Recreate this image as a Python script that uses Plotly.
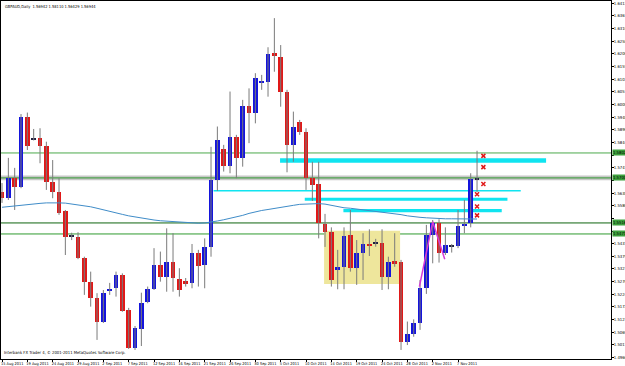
import plotly.graph_objects as go
from datetime import date, timedelta

# ---------------- data ----------------
# daily bars (broker feed includes Sunday bars, no Saturday bars)
start_day = date(2011, 8, 15)
n_bars = 76
dates = []
d = start_day
while len(dates) < n_bars:
    if d.weekday() != 5:
        dates.append(d)
    d += timedelta(days=1)
date_labels = [f"{x.day} {x.strftime('%b %Y')}" for x in dates]

open_ = [1.5643, 1.5619, 1.5699, 1.5662, 1.5950, 1.5857, 1.5862, 1.5832, 1.5685, 1.5644,
         1.5565, 1.5460, 1.5460, 1.5374, 1.5276, 1.5211, 1.5113, 1.5240, 1.5249, 1.5303,
         1.5160, 1.5006, 1.5081, 1.5194, 1.5245, 1.5344, 1.5296, 1.5358, 1.5287, 1.5277,
         1.5269, 1.5392, 1.5344, 1.5419, 1.5690, 1.5818, 1.5749, 1.5869, 1.5783, 1.5994,
         1.5967, 1.6090, 1.6093, 1.6210, 1.6196, 1.6053, 1.5835, 1.5930, 1.5887, 1.5699,
         1.5674, 1.5512, 1.5480, 1.5324, 1.5335, 1.5467, 1.5333, 1.5395, 1.5430, 1.5432,
         1.5433, 1.5296, 1.5359, 1.5355, 1.5031, 1.5062, 1.5106, 1.5252, 1.5467, 1.5515,
         1.5395, 1.5420, 1.5422, 1.5504, 1.5517, 1.56942]
high = [1.5679, 1.5782, 1.5741, 1.5961, 1.5967, 1.5900, 1.5903, 1.5848, 1.5773, 1.5699,
        1.5569, 1.5476, 1.5478, 1.5378, 1.5317, 1.5229, 1.5242, 1.5271, 1.5317, 1.5310,
        1.5169, 1.5095, 1.5231, 1.5256, 1.5413, 1.5399, 1.5494, 1.5474, 1.5331, 1.5291,
        1.5430, 1.5406, 1.5453, 1.5827, 1.5910, 1.5835, 1.6053, 1.5876, 1.6019, 1.6066,
        1.6128, 1.6121, 1.6234, 1.6353, 1.6243, 1.6060, 1.5971, 1.5937, 1.5903, 1.5766,
        1.5766, 1.5553, 1.5498, 1.5406, 1.5498, 1.5569, 1.5446, 1.5474, 1.5490, 1.5451,
        1.5490, 1.5378, 1.5474, 1.5365, 1.5113, 1.5122, 1.5283, 1.5508, 1.5528, 1.5531,
        1.5498, 1.5430, 1.5569, 1.5610, 1.5719, 1.58110]
low = [1.5598, 1.5610, 1.5569, 1.5658, 1.5814, 1.5853, 1.5760, 1.5651, 1.5617, 1.5549,
       1.5385, 1.5446, 1.5368, 1.5222, 1.5174, 1.5038, 1.5107, 1.5222, 1.5215, 1.5153,
       1.5001, 1.4997, 1.5013, 1.5188, 1.5242, 1.5276, 1.5235, 1.5235, 1.5215, 1.5256,
       1.5249, 1.5256, 1.5249, 1.5378, 1.5647, 1.5726, 1.5719, 1.5699, 1.5746, 1.5842,
       1.5923, 1.6060, 1.6032, 1.6134, 1.5991, 1.5723, 1.5766, 1.5876, 1.5651, 1.5606,
       1.5453, 1.5418, 1.5256, 1.5245, 1.5245, 1.5317, 1.5263, 1.5283, 1.5381, 1.5419,
       1.5242, 1.5245, 1.5337, 1.4997, 1.5017, 1.5051, 1.5079, 1.5226, 1.5351, 1.5354,
       1.5385, 1.5395, 1.5413, 1.5474, 1.5498, 1.56429]
close = [1.5618, 1.5699, 1.5664, 1.5950, 1.5832, 1.5859, 1.5832, 1.5685, 1.5644, 1.5556,
         1.5460, 1.5462, 1.5374, 1.5276, 1.5211, 1.5113, 1.5231, 1.5248, 1.5303, 1.5158,
         1.5005, 1.5086, 1.5190, 1.5245, 1.5344, 1.5296, 1.5358, 1.5290, 1.5242, 1.5267,
         1.5392, 1.5341, 1.5419, 1.5692, 1.5855, 1.5749, 1.5869, 1.5783, 1.5994, 1.5964,
         1.6107, 1.6096, 1.6207, 1.6200, 1.6050, 1.5835, 1.5910, 1.5887, 1.5699, 1.5673,
         1.5515, 1.5480, 1.5283, 1.5337, 1.5464, 1.5333, 1.5392, 1.5429, 1.5422, 1.5434,
         1.5296, 1.5358, 1.5352, 1.5031, 1.5062, 1.5106, 1.5252, 1.5467, 1.5515, 1.5395,
         1.5426, 1.5422, 1.5504, 1.5512, 1.5694, 1.56944]
moving_avg = [1.5580, 1.5583, 1.5587, 1.5590, 1.5592, 1.5594, 1.5596, 1.5598, 1.5599, 1.5598,
              1.5597, 1.5594, 1.5590, 1.5587, 1.5582, 1.5576, 1.5569, 1.5563, 1.5557, 1.5551,
              1.5545, 1.5540, 1.5536, 1.5531, 1.5528, 1.5525, 1.5523, 1.5521, 1.5519, 1.5518,
              1.5516, 1.5515, 1.5516, 1.5519, 1.5524, 1.5529, 1.5534, 1.5540, 1.5547, 1.5555,
              1.5562, 1.5567, 1.5571, 1.5576, 1.5580, 1.5584, 1.5588, 1.5592, 1.5594, 1.5595,
              1.5595, 1.5593, 1.5587, 1.5582, 1.5578, 1.5576, 1.5573, 1.5570, 1.5568, 1.5565,
              1.5562, 1.5558, 1.5554, 1.5550, 1.5545, 1.5541, 1.5539, 1.5537, 1.5535, 1.5534,
              1.5533, 1.5533, 1.5532, 1.5532, 1.5532, 1.5532]

# horizontal support/resistance levels
h_levels = [1.5802, 1.5700, 1.5516, 1.5471]
h_colors = ["#4CAA4C", "#2E962E", "#0F640F", "#2E9A2E"]
# grey band behind the 1.5700 level
band_level = (1.5690, 1.5710)

# cyan zones: (start bar, end bar, low, high)
cyan_zones = [(43.9, 85.9, 1.5762, 1.5780),
              (33.4, 81.9, 1.5645, 1.5651),
              (47.8, 79.8, 1.5607, 1.5619),
              (53.9, 78.9, 1.5560, 1.5573)]
# yellow consolidation box
yellow_box = (50.85, 62.85, 1.5267, 1.5484)

# magenta zig-zag (bar position, price)
zig_x = [65.9, 68.0, 69.9]
zig_y = [1.5256, 1.5521, 1.5368]

# red x signal marks
sig_x = [76, 76, 76, 75, 75, 75]
sig_y = [1.5790, 1.5744, 1.5675, 1.5633, 1.5583, 1.5547]

# axis ticks
tick_dates = ["15 Aug 2011", "19 Aug 2011", "24 Aug 2011", "29 Aug 2011", "2 Sep 2011",
              "7 Sep 2011", "12 Sep 2011", "16 Sep 2011", "21 Sep 2011", "26 Sep 2011",
              "30 Sep 2011", "5 Oct 2011", "10 Oct 2011", "14 Oct 2011", "19 Oct 2011",
              "24 Oct 2011", "28 Oct 2011", "2 Nov 2011", "7 Nov 2011"]
price_ticks = [1.49660, 1.50177, 1.50694, 1.51211, 1.51728, 1.52245, 1.52762, 1.53279,
               1.53796, 1.54313, 1.54830, 1.55347, 1.55864, 1.56381, 1.56898, 1.57415,
               1.57932, 1.58449, 1.58966, 1.59483, 1.60000, 1.60517, 1.61034, 1.61551,
               1.62068, 1.62585, 1.63102, 1.63619, 1.64136]

title_text = "GBPAUD,Daily  1.56942 1.58110 1.56429 1.56944"
footer_text = "Interbank FX Trader 4, \u00a9 2001-2011 MetaQuotes Software Corp."

# ---------------- figure ----------------
pos = list(range(n_bars))
UP, DOWN, DOJI, WICK = "#1414DC", "#E01818", "#202040", "#7A7A7A"
FONT = "Liberation Sans Narrow, DejaVu Sans Condensed, Liberation Sans"

fig = go.Figure()

# wicks
wx, wy = [], []
for i in pos:
    wx += [i, i, None]
    wy += [low[i], high[i], None]
fig.add_trace(go.Scatter(x=wx, y=wy, mode="lines", line=dict(color=WICK, width=1),
                         hoverinfo="skip", showlegend=False))

# bodies
base, size, cols = [], [], []
for i in pos:
    o, c = open_[i], close[i]
    base.append(min(o, c))
    size.append(max(abs(c - o), 0.0004))
    if abs(c - o) < 0.0003:
        cols.append(DOJI if c >= o else DOWN)
    else:
        cols.append(UP if c > o else DOWN)
fig.add_trace(go.Bar(x=pos, y=size, base=base, width=0.7, marker=dict(color=cols, line=dict(width=0)),
                     showlegend=False, hoverinfo="skip"))

# moving average
fig.add_trace(go.Scatter(x=pos, y=moving_avg, mode="lines", line=dict(color="#3F8CC8", width=1),
                         showlegend=False, hoverinfo="skip"))

# zig-zag
fig.add_trace(go.Scatter(x=zig_x, y=zig_y, mode="lines", line=dict(color="#D63CD6", width=1.5),
                         showlegend=False, hoverinfo="skip"))

# signals
fig.add_trace(go.Scatter(x=sig_x, y=sig_y, mode="markers",
                         marker=dict(symbol="x-thin", size=4, line=dict(color="#E01818", width=1.5)),
                         showlegend=False, hoverinfo="skip"))

shapes = []
shapes.append(dict(type="rect", xref="x", yref="y", x0=yellow_box[0], x1=yellow_box[1],
                   y0=yellow_box[2], y1=yellow_box[3], fillcolor="#EEE69C", line=dict(width=0),
                   layer="below"))
shapes.append(dict(type="rect", xref="paper", yref="y", x0=0, x1=1, y0=band_level[0], y1=band_level[1],
                   fillcolor="#C8C8C8", line=dict(width=0), layer="below"))
for (x0, x1, y0, y1) in cyan_zones:
    shapes.append(dict(type="rect", xref="x", yref="y", x0=x0, x1=x1, y0=y0, y1=y1,
                       fillcolor="#10E4F0", line=dict(width=0), layer="below"))
for lv, col in zip(h_levels, h_colors):
    shapes.append(dict(type="line", xref="paper", yref="y", x0=0, x1=1, y0=lv, y1=lv,
                       line=dict(color=col, width=1), layer="below"))

annotations = [
    dict(text=title_text, xref="paper", yref="paper", x=0.003, y=0.997, xanchor="left", yanchor="top",
         showarrow=False, font=dict(family=FONT, size=4, color="#000")),
    dict(text=footer_text, xref="paper", yref="paper", x=0.002, y=0.006, xanchor="left", yanchor="bottom",
         showarrow=False, font=dict(family=FONT, size=4.2, color="#000")),
]
for lv in h_levels:
    annotations.append(dict(text=f"{lv:.5f}", xref="paper", yref="y", x=1, y=lv, xanchor="left",
                            yanchor="middle", xshift=0.5, showarrow=False, bgcolor="#3DA03D",
                            borderpad=0, font=dict(family=FONT, size=4.2, color="#000")))

tickvals = [date_labels.index(t) for t in tick_dates]
# price labels hidden behind the green level labels
price_text = []
for v in price_ticks:
    if any(abs(v - lv) < 0.0022 for lv in h_levels):
        price_text.append("")
    else:
        price_text.append(f"{v:.5f}")

fig.update_layout(
    width=625, height=366,
    margin=dict(l=1, r=14, t=1, b=7),
    plot_bgcolor="white", paper_bgcolor="white",
    shapes=shapes, annotations=annotations,
    bargap=0, showlegend=False,
    xaxis=dict(range=[-0.16, 96.15], tickvals=tickvals, ticktext=tick_dates, tickangle=0,
               ticks="outside", ticklen=2, tickcolor="#000", ticklabelposition="outside right",
               ticklabelshift=-2,
               tickfont=dict(family=FONT, size=3.9, color="#000"), automargin=False,
               showline=True, linecolor="#000", linewidth=1, mirror=True,
               showgrid=False, zeroline=False, fixedrange=True),
    yaxis=dict(range=[1.4960, 1.6423], side="right", tickvals=price_ticks,
               ticktext=price_text, automargin=False,
               ticks="outside", ticklen=2, tickcolor="#000", ticklabelstandoff=-1,
               tickfont=dict(family=FONT, size=4.2, color="#000"),
               showline=True, linecolor="#000", linewidth=1, mirror=True,
               showgrid=False, zeroline=False, fixedrange=True),
)

fig.write_html("out.html")
